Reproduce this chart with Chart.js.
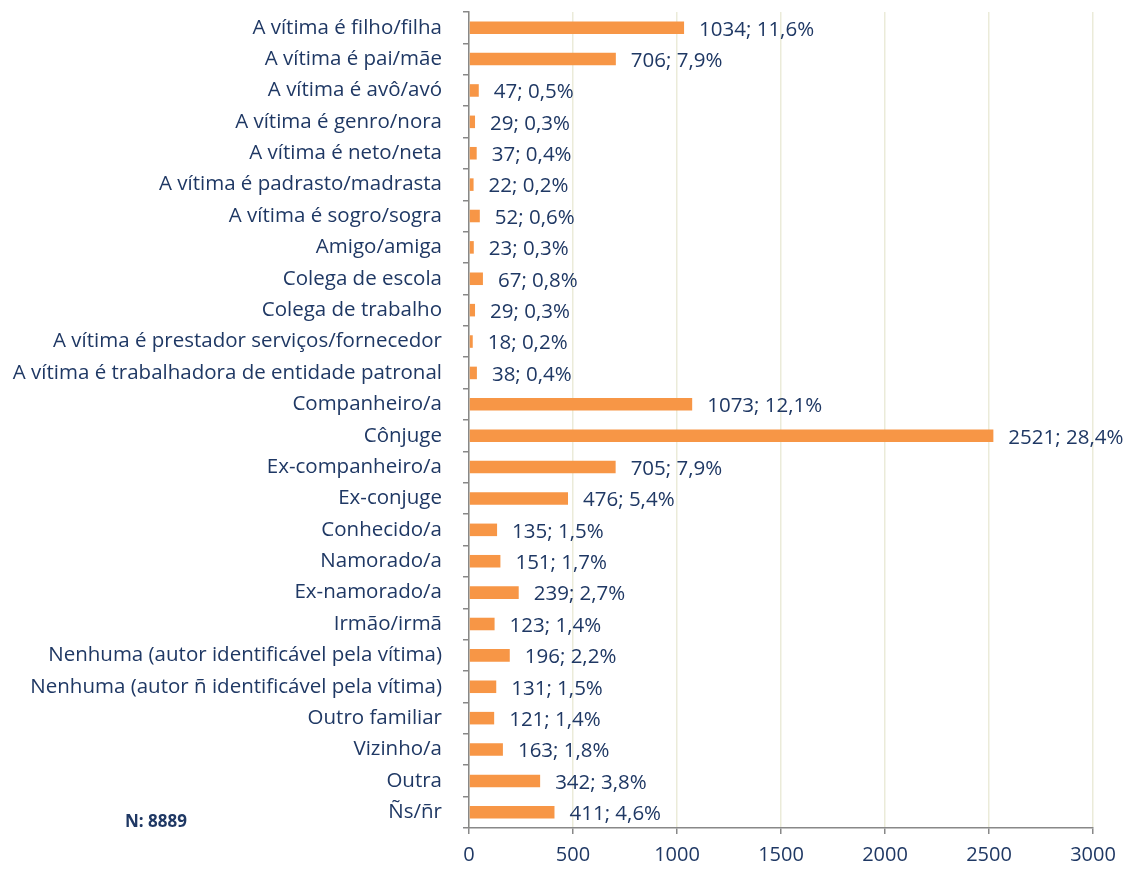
<!DOCTYPE html>
<html>
<head>
<meta charset="utf-8">
<script src="https://cdn.jsdelivr.net/npm/chart.js@4/dist/chart.umd.min.js"></script>
<style>
  html, body { margin: 0; padding: 0; background: #fff; }
  #wrap { position: relative; width: 1127px; height: 871px; }
  #nota { position: absolute; left: 125px; top: 809px; font: bold 17px "Open Sans", sans-serif; color: #1F3864; }
</style>
</head>
<body>
<div id="wrap">
  <canvas id="grafico" width="1127" height="871"></canvas>
  <div id="nota">N: 8889</div>
</div>
<script>
// Relação entre vítima e autor
const categorias = [
  'A vítima é filho/filha', 'A vítima é pai/mãe', 'A vítima é avô/avó', 'A vítima é genro/nora',
  'A vítima é neto/neta', 'A vítima é padrasto/madrasta', 'A vítima é sogro/sogra', 'Amigo/amiga',
  'Colega de escola', 'Colega de trabalho', 'A vítima é prestador serviços/fornecedor',
  'A vítima é trabalhadora de entidade patronal', 'Companheiro/a', 'Cônjuge', 'Ex-companheiro/a',
  'Ex-conjuge', 'Conhecido/a', 'Namorado/a', 'Ex-namorado/a', 'Irmão/irmã',
  'Nenhuma (autor identificável pela vítima)', 'Nenhuma (autor ñ identificável pela vítima)',
  'Outro familiar', 'Vizinho/a', 'Outra', 'Ñs/ñr'
];
const valores = [1034, 706, 47, 29, 37, 22, 52, 23, 67, 29, 18, 38, 1073, 2521, 705, 476, 135, 151, 239, 123, 196, 131, 121, 163, 342, 411];
const percentagens = ['11,6%', '7,9%', '0,5%', '0,3%', '0,4%', '0,2%', '0,6%', '0,3%', '0,8%', '0,3%', '0,2%', '0,4%', '12,1%', '28,4%', '7,9%', '5,4%', '1,5%', '1,7%', '2,7%', '1,4%', '2,2%', '1,5%', '1,4%', '1,8%', '3,8%', '4,6%'];
const ticksX = [0, 500, 1000, 1500, 2000, 2500, 3000];

const corTexto = '#1F3864';
const fonte = '"Open Sans", sans-serif';

// rótulos "valor; %" à direita das barras
const rotulos = {
  id: 'rotulos',
  afterDatasetsDraw(chart) {
    const ctx = chart.ctx;
    const meta = chart.getDatasetMeta(0);
    ctx.save();
    ctx.font = '20.5px ' + fonte;
    ctx.fillStyle = corTexto;
    ctx.textBaseline = 'middle';
    ctx.textAlign = 'left';
    meta.data.forEach((bar, i) => {
      ctx.fillText(valores[i] + '; ' + percentagens[i], bar.x + 15, bar.y + 2);
    });
    ctx.restore();
  }
};

const ctxGrafico = document.getElementById('grafico').getContext('2d');
const grafico = new Chart(ctxGrafico, {
  type: 'bar',
  data: {
    labels: categorias,
    datasets: [{
      data: valores,
      backgroundColor: '#F79646',
      barPercentage: 0.8,
      categoryPercentage: 0.5,
    }],
  },
  options: {
    indexAxis: 'y',
    responsive: false,
    animation: false,
    layout: { padding: { top: 12, right: 34, left: 0, bottom: 0 } },
    plugins: {
      legend: { display: false },
      tooltip: { enabled: false },
    },
    scales: {
      x: {
        min: 0,
        max: 3000,
        afterBuildTicks: (scale) => { scale.ticks = ticksX.map(v => ({ value: v })); },
        afterFit: (scale) => { scale.height = 43; scale.paddingLeft = 0; scale.paddingRight = 0; },
        grid: { color: '#EBEBD9', lineWidth: 1.5, tickLength: 6, tickColor: '#888888' },
        border: { color: '#888888', width: 1.5 },
        ticks: { color: corTexto, font: { family: fonte, size: 20 }, padding: 9, maxRotation: 0, callback: (v) => String(v) },
      },
      y: {
        afterFit: (scale) => { scale.width = 469; scale.paddingTop = 0; scale.paddingBottom = 0; },
        grid: { drawOnChartArea: false, offset: true, tickLength: 6, color: '#888888', lineWidth: 1.5 },
        border: { color: '#888888', width: 1.5 },
        ticks: { color: corTexto, font: { family: fonte, size: 20.5 }, padding: 21, autoSkip: false },
      },
    },
  },
  plugins: [rotulos],
});
</script>
</body>
</html>
